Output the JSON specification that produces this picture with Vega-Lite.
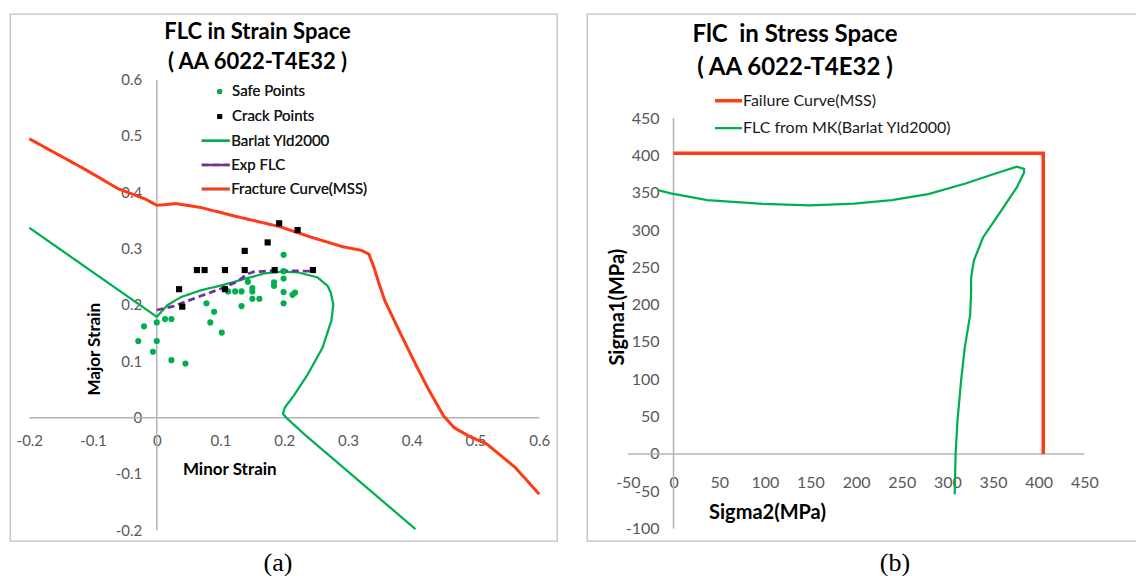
{
  "$schema": "https://vega.github.io/schema/vega-lite/v6.json",
  "background": "white",
  "padding": {"left": 9, "top": 13, "right": 0, "bottom": 0},
  "spacing": 28,
  "resolve": {
    "scale": {"color": "independent", "shape": "independent", "strokeDash": "independent", "strokeWidth": "independent"},
    "legend": {"color": "independent", "shape": "independent", "strokeDash": "independent", "strokeWidth": "independent"}
  },
  "hconcat": [
    {
      "title": {"text": "(a)", "orient": "bottom", "anchor": "middle", "font": "Liberation Serif", "fontSize": 26, "fontWeight": "normal", "color": "black", "offset": 8, "dx": -5.5},
      "resolve": {
        "scale": {"color": "independent", "shape": "independent", "strokeDash": "independent", "strokeWidth": "independent"},
        "legend": {"color": "independent", "shape": "independent", "strokeDash": "independent", "strokeWidth": "independent"}
      },
      "vconcat": [
        {
          "width": 547,
          "height": 527,
          "title": {"text": ["FLC in Strain Space", "( AA 6022-T4E32 )"], "font": "Lato", "fontSize": 22, "fontWeight": "bold", "lineHeight": 30, "offset": -60, "dx": -26, "color": "black"},
          "data": {"values": [
            {"s": "axis", "i": 0, "x": -0.2, "y": 0, "x2": 0.6, "y2": 0},
            {"s": "axis", "i": 1, "x": 0, "y": -0.2, "x2": 0, "y2": 0.6},
            {"s": "Barlat Yld2000", "i": 0, "x": -0.2, "y": 0.337},
            {"s": "Barlat Yld2000", "i": 1, "x": 0.0, "y": 0.179},
            {"s": "Barlat Yld2000", "i": 2, "x": 0.017, "y": 0.2},
            {"s": "Barlat Yld2000", "i": 3, "x": 0.038, "y": 0.214},
            {"s": "Barlat Yld2000", "i": 4, "x": 0.069, "y": 0.226},
            {"s": "Barlat Yld2000", "i": 5, "x": 0.106, "y": 0.236},
            {"s": "Barlat Yld2000", "i": 6, "x": 0.137, "y": 0.246},
            {"s": "Barlat Yld2000", "i": 7, "x": 0.169, "y": 0.256},
            {"s": "Barlat Yld2000", "i": 8, "x": 0.195, "y": 0.259},
            {"s": "Barlat Yld2000", "i": 9, "x": 0.221, "y": 0.258},
            {"s": "Barlat Yld2000", "i": 10, "x": 0.252, "y": 0.249},
            {"s": "Barlat Yld2000", "i": 11, "x": 0.268, "y": 0.234},
            {"s": "Barlat Yld2000", "i": 12, "x": 0.273, "y": 0.222},
            {"s": "Barlat Yld2000", "i": 13, "x": 0.277, "y": 0.201},
            {"s": "Barlat Yld2000", "i": 14, "x": 0.274, "y": 0.172},
            {"s": "Barlat Yld2000", "i": 15, "x": 0.26, "y": 0.124},
            {"s": "Barlat Yld2000", "i": 16, "x": 0.237, "y": 0.077},
            {"s": "Barlat Yld2000", "i": 17, "x": 0.215, "y": 0.039},
            {"s": "Barlat Yld2000", "i": 18, "x": 0.201, "y": 0.018},
            {"s": "Barlat Yld2000", "i": 19, "x": 0.198, "y": 0.007},
            {"s": "Barlat Yld2000", "i": 20, "x": 0.204, "y": -0.001},
            {"s": "Barlat Yld2000", "i": 21, "x": 0.232, "y": -0.03},
            {"s": "Barlat Yld2000", "i": 22, "x": 0.406, "y": -0.198},
            {"s": "Exp FLC", "i": 0, "x": 0.0, "y": 0.191},
            {"s": "Exp FLC", "i": 1, "x": 0.027, "y": 0.198},
            {"s": "Exp FLC", "i": 2, "x": 0.069, "y": 0.216},
            {"s": "Exp FLC", "i": 3, "x": 0.106, "y": 0.231},
            {"s": "Exp FLC", "i": 4, "x": 0.127, "y": 0.242},
            {"s": "Exp FLC", "i": 5, "x": 0.142, "y": 0.255},
            {"s": "Exp FLC", "i": 6, "x": 0.153, "y": 0.259},
            {"s": "Exp FLC", "i": 7, "x": 0.189, "y": 0.261},
            {"s": "Exp FLC", "i": 8, "x": 0.245, "y": 0.26},
            {"s": "Fracture Curve(MSS)", "i": 0, "x": -0.2, "y": 0.495},
            {"s": "Fracture Curve(MSS)", "i": 1, "x": -0.113, "y": 0.441},
            {"s": "Fracture Curve(MSS)", "i": 2, "x": -0.06, "y": 0.406},
            {"s": "Fracture Curve(MSS)", "i": 3, "x": -0.018, "y": 0.388},
            {"s": "Fracture Curve(MSS)", "i": 4, "x": 0.0, "y": 0.377},
            {"s": "Fracture Curve(MSS)", "i": 5, "x": 0.013, "y": 0.378},
            {"s": "Fracture Curve(MSS)", "i": 6, "x": 0.03, "y": 0.38},
            {"s": "Fracture Curve(MSS)", "i": 7, "x": 0.069, "y": 0.373},
            {"s": "Fracture Curve(MSS)", "i": 8, "x": 0.125, "y": 0.357},
            {"s": "Fracture Curve(MSS)", "i": 9, "x": 0.193, "y": 0.339},
            {"s": "Fracture Curve(MSS)", "i": 10, "x": 0.243, "y": 0.32},
            {"s": "Fracture Curve(MSS)", "i": 11, "x": 0.293, "y": 0.303},
            {"s": "Fracture Curve(MSS)", "i": 12, "x": 0.321, "y": 0.297},
            {"s": "Fracture Curve(MSS)", "i": 13, "x": 0.333, "y": 0.29},
            {"s": "Fracture Curve(MSS)", "i": 14, "x": 0.341, "y": 0.266},
            {"s": "Fracture Curve(MSS)", "i": 15, "x": 0.349, "y": 0.237},
            {"s": "Fracture Curve(MSS)", "i": 16, "x": 0.358, "y": 0.207},
            {"s": "Fracture Curve(MSS)", "i": 17, "x": 0.383, "y": 0.148},
            {"s": "Fracture Curve(MSS)", "i": 18, "x": 0.406, "y": 0.095},
            {"s": "Fracture Curve(MSS)", "i": 19, "x": 0.425, "y": 0.053},
            {"s": "Fracture Curve(MSS)", "i": 20, "x": 0.45, "y": 0.003},
            {"s": "Fracture Curve(MSS)", "i": 21, "x": 0.467, "y": -0.018},
            {"s": "Fracture Curve(MSS)", "i": 22, "x": 0.49, "y": -0.033},
            {"s": "Fracture Curve(MSS)", "i": 23, "x": 0.518, "y": -0.047},
            {"s": "Fracture Curve(MSS)", "i": 24, "x": 0.563, "y": -0.089},
            {"s": "Fracture Curve(MSS)", "i": 25, "x": 0.6, "y": -0.136},
            {"s": "Safe Points", "i": 0, "x": 0.199, "y": 0.289},
            {"s": "Safe Points", "i": 1, "x": 0.199, "y": 0.26},
            {"s": "Safe Points", "i": 2, "x": 0.199, "y": 0.247},
            {"s": "Safe Points", "i": 3, "x": 0.184, "y": 0.24},
            {"s": "Safe Points", "i": 4, "x": 0.184, "y": 0.234},
            {"s": "Safe Points", "i": 5, "x": 0.199, "y": 0.223},
            {"s": "Safe Points", "i": 6, "x": 0.143, "y": 0.241},
            {"s": "Safe Points", "i": 7, "x": 0.15, "y": 0.23},
            {"s": "Safe Points", "i": 8, "x": 0.15, "y": 0.224},
            {"s": "Safe Points", "i": 9, "x": 0.15, "y": 0.211},
            {"s": "Safe Points", "i": 10, "x": 0.161, "y": 0.211},
            {"s": "Safe Points", "i": 11, "x": 0.112, "y": 0.224},
            {"s": "Safe Points", "i": 12, "x": 0.123, "y": 0.224},
            {"s": "Safe Points", "i": 13, "x": 0.133, "y": 0.224},
            {"s": "Safe Points", "i": 14, "x": 0.133, "y": 0.198},
            {"s": "Safe Points", "i": 15, "x": 0.199, "y": 0.203},
            {"s": "Safe Points", "i": 16, "x": 0.213, "y": 0.218},
            {"s": "Safe Points", "i": 17, "x": 0.217, "y": 0.222},
            {"s": "Safe Points", "i": 18, "x": 0.078, "y": 0.203},
            {"s": "Safe Points", "i": 19, "x": 0.09, "y": 0.188},
            {"s": "Safe Points", "i": 20, "x": 0.084, "y": 0.169},
            {"s": "Safe Points", "i": 21, "x": 0.102, "y": 0.151},
            {"s": "Safe Points", "i": 22, "x": 0.013, "y": 0.175},
            {"s": "Safe Points", "i": 23, "x": 0.023, "y": 0.175},
            {"s": "Safe Points", "i": 24, "x": 0.0, "y": 0.169},
            {"s": "Safe Points", "i": 25, "x": -0.02, "y": 0.162},
            {"s": "Safe Points", "i": 26, "x": -0.029, "y": 0.136},
            {"s": "Safe Points", "i": 27, "x": 0.0, "y": 0.136},
            {"s": "Safe Points", "i": 28, "x": -0.006, "y": 0.117},
            {"s": "Safe Points", "i": 29, "x": 0.023, "y": 0.102},
            {"s": "Safe Points", "i": 30, "x": 0.045, "y": 0.096},
            {"s": "Crack Points", "i": 0, "x": 0.192, "y": 0.345},
            {"s": "Crack Points", "i": 1, "x": 0.221, "y": 0.333},
            {"s": "Crack Points", "i": 2, "x": 0.174, "y": 0.311},
            {"s": "Crack Points", "i": 3, "x": 0.138, "y": 0.296},
            {"s": "Crack Points", "i": 4, "x": 0.063, "y": 0.262},
            {"s": "Crack Points", "i": 5, "x": 0.075, "y": 0.262},
            {"s": "Crack Points", "i": 6, "x": 0.107, "y": 0.262},
            {"s": "Crack Points", "i": 7, "x": 0.138, "y": 0.262},
            {"s": "Crack Points", "i": 8, "x": 0.185, "y": 0.262},
            {"s": "Crack Points", "i": 9, "x": 0.245, "y": 0.262},
            {"s": "Crack Points", "i": 10, "x": 0.035, "y": 0.228},
            {"s": "Crack Points", "i": 11, "x": 0.107, "y": 0.228},
            {"s": "Crack Points", "i": 12, "x": 0.04, "y": 0.197}
          ]},
          "encoding": {
            "x": {"field": "x", "type": "quantitative",
              "scale": {"domain": [-0.2303, 0.628], "nice": false, "zero": false},
              "axis": {"values": [-0.2, -0.1, 0, 0.1, 0.2, 0.3, 0.4, 0.5, 0.6], "offset": -123.3, "labelPadding": 16, "labelFontSize": 15,
                "labelExpr": "datum.value == 0 ? '0' : replace(format(datum.value, '.1f'), '\u2212', '-')",
                "title": "Minor Strain", "titleFontSize": 17, "titleX": 219.3, "titleY": 51.6, "titleBaseline": "middle", "titleAlign": "center", "titleAngle": 0}},
            "y": {"field": "y", "type": "quantitative",
              "scale": {"domain": [-0.219, 0.7165], "nice": false, "zero": false},
              "axis": {"values": [-0.2, -0.1, 0, 0.1, 0.2, 0.3, 0.4, 0.5, 0.6], "offset": -146.7, "labelPadding": 15, "labelFontSize": 15,
                "labelExpr": "datum.value == 0 ? '0' : replace(format(datum.value, '.1f'), '\u2212', '-')",
                "title": "Major Strain", "titleFontSize": 17, "titleX": -62.4, "titleY": 334.7, "titleBaseline": "middle", "titleAlign": "center", "titleAngle": 270}}
          },
          "layer": [
            {
              "transform": [{"filter": "datum.s == 'axis'"}],
              "mark": {"type": "rule", "color": "#B4B4B4", "strokeWidth": 1.5},
              "encoding": {"x2": {"field": "x2"}, "y2": {"field": "y2"}}
            },
            {
              "transform": [{"filter": {"field": "s", "oneOf": ["Barlat Yld2000", "Exp FLC", "Fracture Curve(MSS)"]}}],
              "mark": {"type": "line", "interpolate": "linear"},
              "encoding": {
                "order": {"field": "i", "type": "quantitative"},
                "color": {"field": "s", "type": "nominal",
                  "scale": {"domain": ["Barlat Yld2000", "Exp FLC", "Fracture Curve(MSS)"], "range": ["#00B050", "#7030A0", "#FF3A17"]},
                  "legend": {"title": null, "orient": "none", "legendX": 190.2, "legendY": 118.7, "symbolType": "stroke", "symbolSize": 784, "symbolStrokeWidth": 2.5, "labelFontSize": 15, "labelOffset": 0, "clipHeight": 16, "rowPadding": 8.2, "padding": 0}},
                "strokeDash": {"field": "s", "type": "nominal",
                  "scale": {"domain": ["Barlat Yld2000", "Exp FLC", "Fracture Curve(MSS)"], "range": [[1, 0], [7, 4], [1, 0]]},
                  "legend": {"title": null, "orient": "none", "legendX": 190.2, "legendY": 118.7, "symbolType": "stroke", "symbolSize": 784, "symbolStrokeWidth": 2.5, "labelFontSize": 15, "labelOffset": 0, "clipHeight": 16, "rowPadding": 8.2, "padding": 0}},
                "strokeWidth": {"field": "s", "type": "nominal",
                  "scale": {"type": "ordinal", "domain": ["Barlat Yld2000", "Exp FLC", "Fracture Curve(MSS)"], "range": [2.25, 2.75, 3]},
                  "legend": {"title": null, "orient": "none", "legendX": 190.2, "legendY": 118.7, "symbolType": "stroke", "symbolSize": 784, "labelFontSize": 15, "labelOffset": 0, "clipHeight": 16, "rowPadding": 8.2, "padding": 0}}
              }
            },
            {
              "transform": [{"filter": {"field": "s", "oneOf": ["Safe Points", "Crack Points"]}}],
              "mark": {"type": "point", "filled": true, "size": 38, "opacity": 1},
              "encoding": {
                "color": {"field": "s", "type": "nominal",
                  "scale": {"domain": ["Safe Points", "Crack Points"], "range": ["#00B050", "#000000"]},
                  "legend": {"title": null, "orient": "none", "legendX": 202.2, "legendY": 69.4, "symbolSize": 25, "labelFontSize": 15, "labelOffset": 4.9, "clipHeight": 16, "rowPadding": 9, "padding": 0}},
                "shape": {"field": "s", "type": "nominal",
                  "scale": {"domain": ["Safe Points", "Crack Points"], "range": ["circle", "square"]},
                  "legend": {"title": null, "orient": "none", "legendX": 202.2, "legendY": 69.4, "symbolSize": 25, "labelFontSize": 15, "labelOffset": 4.9, "clipHeight": 16, "rowPadding": 9, "padding": 0}}
              }
            }
          ],
          "resolve": {"scale": {"color": "independent"}}
        }
      ]
    },
    {
      "title": {"text": "(b)", "orient": "bottom", "anchor": "middle", "font": "Liberation Serif", "fontSize": 26, "fontWeight": "normal", "color": "black", "offset": 8, "dx": 31},
      "resolve": {
        "scale": {"color": "independent", "strokeWidth": "independent"},
        "legend": {"color": "independent", "strokeWidth": "independent"}
      },
      "vconcat": [
        {
          "width": 554,
          "height": 527,
          "title": {"text": ["FlC\u00a0 in Stress Space", "( AA 6022-T4E32 )"], "font": "Lato", "fontSize": 24, "fontWeight": "bold", "lineHeight": 33, "offset": -66, "dx": -69, "color": "black"},
          "data": {"values": [
            {"s": "axis", "i": 0, "x": -50, "y": 0, "x2": 450, "y2": 0},
            {"s": "axis", "i": 1, "x": 0, "y": -100, "x2": 0, "y2": 450},
            {"s": "Failure Curve(MSS)", "i": 0, "x": 0, "y": 403},
            {"s": "Failure Curve(MSS)", "i": 1, "x": 405, "y": 403},
            {"s": "Failure Curve(MSS)", "i": 2, "x": 405, "y": 0},
            {"s": "FLC from MK(Barlat  Yld2000)", "i": 0, "x": -17, "y": 353.5},
            {"s": "FLC from MK(Barlat  Yld2000)", "i": 1, "x": -3, "y": 349},
            {"s": "FLC from MK(Barlat  Yld2000)", "i": 2, "x": 37, "y": 340},
            {"s": "FLC from MK(Barlat  Yld2000)", "i": 3, "x": 98, "y": 335},
            {"s": "FLC from MK(Barlat  Yld2000)", "i": 4, "x": 150, "y": 333},
            {"s": "FLC from MK(Barlat  Yld2000)", "i": 5, "x": 198, "y": 335.5},
            {"s": "FLC from MK(Barlat  Yld2000)", "i": 6, "x": 239, "y": 340},
            {"s": "FLC from MK(Barlat  Yld2000)", "i": 7, "x": 279, "y": 348},
            {"s": "FLC from MK(Barlat  Yld2000)", "i": 8, "x": 319, "y": 362},
            {"s": "FLC from MK(Barlat  Yld2000)", "i": 9, "x": 351, "y": 375},
            {"s": "FLC from MK(Barlat  Yld2000)", "i": 10, "x": 376, "y": 385},
            {"s": "FLC from MK(Barlat  Yld2000)", "i": 11, "x": 384, "y": 382},
            {"s": "FLC from MK(Barlat  Yld2000)", "i": 12, "x": 384, "y": 377},
            {"s": "FLC from MK(Barlat  Yld2000)", "i": 13, "x": 376, "y": 357},
            {"s": "FLC from MK(Barlat  Yld2000)", "i": 14, "x": 359, "y": 326},
            {"s": "FLC from MK(Barlat  Yld2000)", "i": 15, "x": 339, "y": 290},
            {"s": "FLC from MK(Barlat  Yld2000)", "i": 16, "x": 329, "y": 259},
            {"s": "FLC from MK(Barlat  Yld2000)", "i": 17, "x": 326, "y": 236},
            {"s": "FLC from MK(Barlat  Yld2000)", "i": 18, "x": 326, "y": 218},
            {"s": "FLC from MK(Barlat  Yld2000)", "i": 19, "x": 325, "y": 187},
            {"s": "FLC from MK(Barlat  Yld2000)", "i": 20, "x": 319, "y": 142},
            {"s": "FLC from MK(Barlat  Yld2000)", "i": 21, "x": 315, "y": 98},
            {"s": "FLC from MK(Barlat  Yld2000)", "i": 22, "x": 311, "y": 44},
            {"s": "FLC from MK(Barlat  Yld2000)", "i": 23, "x": 309, "y": 0},
            {"s": "FLC from MK(Barlat  Yld2000)", "i": 24, "x": 308, "y": -54}
          ]},
          "encoding": {
            "x": {"field": "x", "type": "quantitative",
              "scale": {"domain": [-94.8, 512.1], "nice": false, "zero": false},
              "axis": {"values": [-50, 0, 50, 100, 150, 200, 250, 300, 350, 400, 450], "offset": -87, "labelPadding": 20, "labelFontSize": 16,
                "labelExpr": "replace(format(datum.value, 'd'), '\u2212', '-')",
                "title": "Sigma2(MPa)", "titleFontSize": 20, "titleX": 180, "titleY": 58.7, "titleBaseline": "middle", "titleAlign": "center", "titleAngle": 0}},
            "y": {"field": "y", "type": "quantitative",
              "scale": {"domain": [-116.6, 589.4], "nice": false, "zero": false},
              "axis": {"values": [-100, -50, 0, 50, 100, 150, 200, 250, 300, 350, 400, 450], "offset": -86.5, "labelPadding": 14.5, "labelFontSize": 16,
                "labelExpr": "replace(format(datum.value, 'd'), '\u2212', '-')",
                "title": "Sigma1(MPa)", "titleFontSize": 20, "titleX": -56, "titleY": 292.7, "titleBaseline": "middle", "titleAlign": "center", "titleAngle": 270}}
          },
          "layer": [
            {
              "transform": [{"filter": "datum.s == 'axis'"}],
              "mark": {"type": "rule", "color": "#B4B4B4", "strokeWidth": 1.5},
              "encoding": {"x2": {"field": "x2"}, "y2": {"field": "y2"}}
            },
            {
              "transform": [{"filter": "datum.s != 'axis'"}],
              "mark": {"type": "line", "interpolate": "linear"},
              "encoding": {
                "order": {"field": "i", "type": "quantitative"},
                "color": {"field": "s", "type": "nominal",
                  "scale": {"domain": ["Failure Curve(MSS)", "FLC from MK(Barlat  Yld2000)"], "range": ["#FF3A17", "#00B050"]},
                  "legend": {"title": null, "orient": "none", "legendX": 126, "legendY": 77.7, "symbolType": "stroke", "symbolSize": 729, "symbolStrokeWidth": 2.5, "labelFontSize": 16, "labelOffset": -1, "clipHeight": 18, "rowPadding": 9.3, "padding": 0}},
                "strokeWidth": {"field": "s", "type": "nominal",
                  "scale": {"type": "ordinal", "domain": ["Failure Curve(MSS)", "FLC from MK(Barlat  Yld2000)"], "range": [3.5, 2.25]},
                  "legend": {"title": null, "orient": "none", "legendX": 126, "legendY": 77.7, "symbolType": "stroke", "symbolSize": 729, "labelFontSize": 16, "labelOffset": -1, "clipHeight": 18, "rowPadding": 9.3, "padding": 0}}
              }
            }
          ]
        }
      ]
    }
  ],
  "config": {
    "view": {"stroke": "#BFBFBF", "strokeWidth": 1.3},
    "font": "Lato",
    "axis": {"domain": false, "ticks": false, "tickSize": 0, "grid": false, "labelFont": "Lato", "labelColor": "#595959", "labelFlush": false, "labelOverlap": false, "labelBound": false, "titleFont": "Lato", "titleColor": "black", "titleFontWeight": "bold"},
    "legend": {"labelFont": "Lato", "labelColor": "#1a1a1a", "labelLimit": 400}
  }
}
